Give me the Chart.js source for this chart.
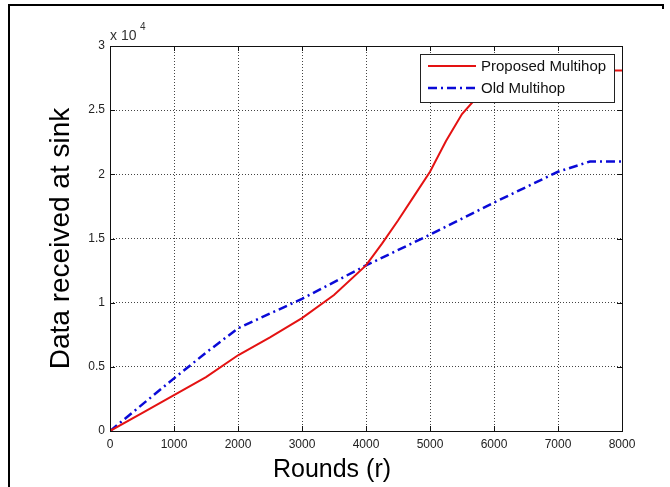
<!DOCTYPE html>
<html>
<head>
<meta charset="utf-8">
<script src="https://cdn.jsdelivr.net/npm/chart.js@4"></script>
<style>
    body { margin: 0; background: #fff; }
    #wrap { width: 670px; height: 487px; position: relative; }
</style>
</head>
<body>
<div id="wrap"><canvas id="chart" width="670" height="487"></canvas></div>
<script>
// values
let rounds_proposed = [0, 500, 1000, 1500, 2000, 2500, 3000, 3500, 4000, 4250, 4500, 4750, 5000, 5250, 5500, 5750, 6000, 6250, 6500, 8000];
let data_proposed = [0, 1400, 2800, 4200, 5900, 7300, 8800, 10600, 12900, 14600, 16400, 18300, 20200, 22600, 24700, 26100, 27000, 27700, 28100, 28100];
let rounds_old = [0, 1000, 1500, 2000, 3000, 4000, 5000, 6000, 7000, 7500, 8000];
let data_old = [0, 4100, 6100, 8000, 10300, 12900, 15300, 17800, 20200, 21000, 21000];
let x_ticks = [0, 1000, 2000, 3000, 4000, 5000, 6000, 7000, 8000];
let y_ticks = [0, 5000, 10000, 15000, 20000, 25000, 30000];

function toPoints(xs, ys) {
    let pts = [];
    for (let i = 0; i < xs.length; i++) {
        pts.push({x: xs[i], y: ys[i]});
    }
    return pts;
}

const FONT = "'Liberation Sans', Arial, sans-serif";

// frame, axes box, inner ticks, exponent, x title, legend
let decor = {
    id: 'decor',
    afterDraw(chart) {
        let ctx = chart.ctx;
        let a = chart.chartArea;
        let xs = chart.scales.x, ys = chart.scales.y;
        ctx.save();
        // outer frame (cropped)
        ctx.strokeStyle = '#000';
        ctx.lineWidth = 2;
        ctx.beginPath();
        ctx.moveTo(9, 487);
        ctx.lineTo(9, 5);
        ctx.lineTo(663, 5);
        ctx.lineTo(663, 9);
        ctx.stroke();
        // axes box
        ctx.lineWidth = 1;
        ctx.strokeStyle = '#111';
        ctx.strokeRect(a.left + 0.5, a.top + 0.5, a.right - a.left, a.bottom - a.top);
        // inward tick marks
        ctx.beginPath();
        x_ticks.forEach(v => {
            let px = Math.round(xs.getPixelForValue(v)) + 0.5;
            ctx.moveTo(px, a.bottom); ctx.lineTo(px, a.bottom - 5);
            ctx.moveTo(px, a.top); ctx.lineTo(px, a.top + 5);
        });
        y_ticks.forEach(v => {
            let py = Math.round(ys.getPixelForValue(v)) + 0.5;
            ctx.moveTo(a.left, py); ctx.lineTo(a.left + 5, py);
            ctx.moveTo(a.right, py); ctx.lineTo(a.right - 5, py);
        });
        ctx.stroke();
        // exponent label
        ctx.fillStyle = '#333';
        ctx.font = '14px ' + FONT;
        ctx.textAlign = 'left';
        ctx.textBaseline = 'alphabetic';
        ctx.fillText('x 10', a.left, a.top - 6);
        ctx.font = '10px ' + FONT;
        ctx.fillText('4', a.left + 30, a.top - 16);
        // x title
        ctx.fillStyle = '#000';
        ctx.font = '25px ' + FONT;
        ctx.textAlign = 'center';
        ctx.fillText('Rounds (r)', 332, 477);
        // legend
        let lw = 194, lh = 48;
        let lx = a.right - 8 - lw, ly = a.top + 8;
        ctx.fillStyle = '#fff';
        ctx.fillRect(lx, ly, lw, lh);
        ctx.strokeStyle = '#222';
        ctx.lineWidth = 1;
        ctx.strokeRect(lx + 0.5, ly + 0.5, lw, lh);
        chart.data.datasets.forEach((ds, i) => {
            let yy = ly + 12 + i * 22;
            ctx.strokeStyle = ds.borderColor;
            ctx.lineWidth = ds.borderWidth;
            ctx.setLineDash(ds.borderDash || []);
            ctx.beginPath();
            ctx.moveTo(lx + 8, yy);
            ctx.lineTo(lx + 56, yy);
            ctx.stroke();
            ctx.setLineDash([]);
            ctx.fillStyle = '#111';
            ctx.font = '15px ' + FONT;
            ctx.textAlign = 'left';
            ctx.textBaseline = 'middle';
            ctx.fillText(ds.label, lx + 61, yy + 1);
        });
        ctx.restore();
    }
};

let ctx = document.querySelector('#chart');
new Chart(ctx, {
    type: 'line',
    data: {
        datasets: [{
            label: 'Proposed Multihop',
            data: toPoints(rounds_proposed, data_proposed),
            borderColor: 'rgb(228, 18, 18)',
            borderWidth: 2,
            pointRadius: 0,
            tension: 0
        }, {
            label: 'Old Multihop',
            data: toPoints(rounds_old, data_old),
            borderColor: 'rgb(10, 10, 215)',
            borderWidth: 2.5,
            borderDash: [9, 4, 2, 4],
            pointRadius: 0,
            tension: 0
        }]
    },
    options: {
        responsive: false,
        animation: false,
        layout: {
            padding: {left: 0, top: 46, right: 48, bottom: 0}
        },
        plugins: {
            legend: {display: false},
            tooltip: {enabled: false}
        },
        scales: {
            x: {
                type: 'linear',
                min: 0,
                max: 8000,
                afterBuildTicks: (s) => { s.ticks = x_ticks.map(v => ({value: v})); },
                afterFit: (s) => { s.height = 56; },
                ticks: {
                    color: '#222',
                    padding: 6,
                    maxRotation: 0,
                    font: {size: 12, family: FONT},
                    callback: (v) => String(v)
                },
                grid: {
                    color: '#444',
                    drawTicks: false
                },
                border: {display: false, dash: [1, 2]}
            },
            y: {
                min: 0,
                max: 30000,
                afterBuildTicks: (s) => { s.ticks = y_ticks.map(v => ({value: v})); },
                afterFit: (s) => { s.width = 110; },
                ticks: {
                    color: '#222',
                    padding: 5,
                    font: {size: 12, family: FONT},
                    callback: (v) => String(v / 10000)
                },
                grid: {
                    color: '#444',
                    drawTicks: false
                },
                border: {display: false, dash: [1, 2]},
                title: {
                    display: true,
                    text: 'Data received at sink',
                    color: '#000',
                    font: {size: 28, family: FONT},
                    padding: {top: 44, bottom: 0}
                }
            }
        }
    },
    plugins: [decor]
});
</script>
</body>
</html>
